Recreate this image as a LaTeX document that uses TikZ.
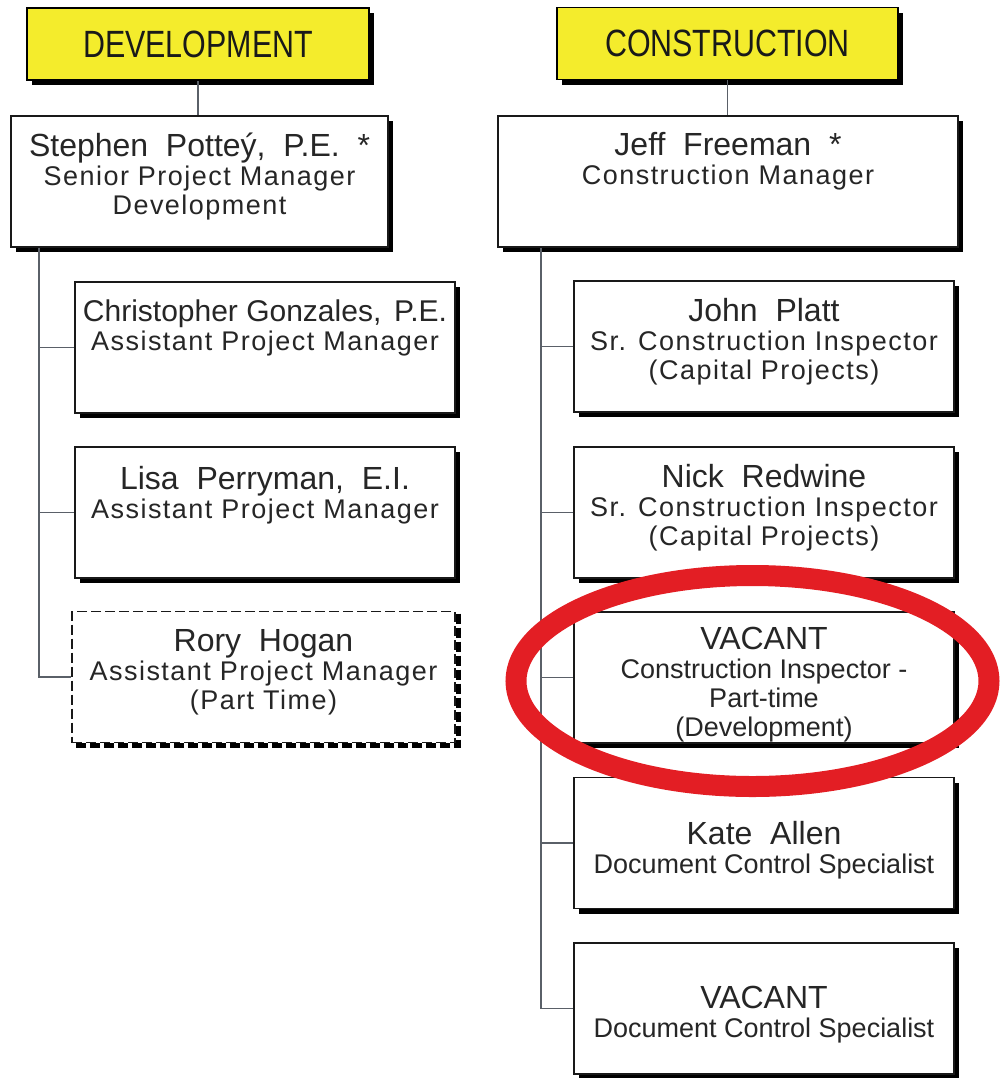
\documentclass[tikz,border=0pt]{standalone}
\usepackage{fontspec}
\setmainfont{Liberation Sans}
\newfontfamily\headfont[FakeStretch=0.8]{Liberation Sans}
\newfontfamily\widefont[LetterSpace=5.5]{Liberation Sans}
\usetikzlibrary{shadows}

\definecolor{deptyellow}{HTML}{F4EC2C}
\definecolor{ringred}{HTML}{E31E24}
\definecolor{linkgray}{HTML}{5A6068}

\newcommand{\namefont}{\normalfont\fontsize{16}{17}\selectfont}

\tikzset{
  blackshadow/.style={drop shadow={shadow xshift=2.5pt, shadow yshift=-2.5pt, fill=black, opacity=1}},
  depthead/.style={draw=black, line width=0.8pt, fill=deptyellow, blackshadow,
    minimum width=171pt, minimum height=36pt, font=\headfont\fontsize{19}{20}\selectfont, text=black!90},
  staffbox/.style={draw=black!90, line width=0.8pt, fill=white, blackshadow,
    minimum width=190pt, minimum height=65.5pt},
  vacantbox/.style={draw=black!90, line width=0.8pt, fill=white, dash pattern=on 5pt off 2pt,
    minimum width=190pt, minimum height=65.5pt},
  stafftext/.style={anchor=north, align=center, inner sep=0pt,
    font=\fontsize{13.5}{14.5}\selectfont, text=black!85},
  widetext/.style={stafftext, font=\widefont\fontsize{13.5}{14.5}\selectfont},
  link/.style={linkgray, line width=0.8pt},
}

\begin{document}
\begin{tikzpicture}[x=0.5pt, y=-0.5pt]
  \useasboundingbox (0,0) rectangle (1002,1078);

  % Development side
  \node[depthead] (dev) at (198,44) {DEVELOPMENT};
  \node[staffbox, minimum width=188.5pt] (sp) at (199.5,181.5) {};
  \node[widetext] (sp-t) at ([yshift=-8.5pt]sp.north)
    {{\namefont Stephen\ \ Potteý,\ \ P.E.\ \ *}\\Senior Project Manager\\Development};
  \node[staffbox] (cg) at (265,347.5) {};
  \node[widetext] (cg-t) at ([yshift=-9pt]cg.north)
    {{\namefont\fontsize{15}{16}\selectfont Christopher Gonzales,\hspace{0.15em} P.E.}\\Assistant Project Manager};
  \node[staffbox] (lp) at (265,512.5) {};
  \node[widetext] (lp-t) at ([yshift=-10pt]lp.north)
    {{\namefont Lisa\ \ Perryman,\ \ E.I.}\\Assistant Project Manager};
  \node[vacantbox, minimum width=191.5pt] (rh) at (263.5,677) {};
  \draw[dash pattern=on 5pt off 2pt, line width=2.5pt] ([xshift=1.2pt,yshift=-1.5pt]rh.north east)
    -- ([xshift=1.2pt,yshift=-1.2pt]rh.south east) -- ([xshift=2pt,yshift=-1.2pt]rh.south west);
  \node[widetext] (rh-t) at ([yshift=-9pt]rh.north)
    {{\namefont Rory\ \ Hogan}\\Assistant Project Manager\\(Part Time)};

  % Construction side
  \node[depthead, minimum width=170.5pt] (con) at (727.5,43.5) {CONSTRUCTION};
  \node[staffbox, minimum width=230pt] (jf) at (728,181.5) {};
  \node[widetext] (jf-t) at ([yshift=-8.5pt]jf.north)
    {{\namefont Jeff\ \ Freeman\ \ *}\\Construction Manager};
  \node[staffbox] (jp) at (764,346.5) {};
  \node[widetext] (jp-t) at ([yshift=-9pt]jp.north)
    {{\namefont John\ \ Platt}\\Sr. Construction Inspector\\(Capital Projects)};
  \node[staffbox] (nr) at (764,512.5) {};
  \node[widetext] (nr-t) at ([yshift=-9pt]nr.north)
    {{\namefont Nick\ \ Redwine}\\Sr. Construction Inspector\\(Capital Projects)};
  \node[staffbox] (vc) at (764,677.5) {};
  \node[stafftext] (vc-t) at ([yshift=-8pt]vc.north)
    {{\namefont VACANT}\\Construction Inspector -\\Part-time\\(Development)};
  \node[staffbox] (ka) at (764,843) {};
  \node[stafftext] (ka-t) at ([yshift=-22pt]ka.north)
    {{\namefont Kate\ \ Allen}\\Document Control Specialist};
  \node[staffbox] (vd) at (764,1008.5) {};
  \node[stafftext] (vd-t) at ([yshift=-22pt]vd.north)
    {{\namefont VACANT}\\Document Control Specialist};

  % Connectors
  \draw[link] (dev.south) -- (dev.south |- sp.north);
  \draw[link] (con.south) -- (con.south |- jf.north);
  \coordinate (devspine) at ([xshift=14.5pt]sp.south west);
  \coordinate (conspine) at ([xshift=22pt]jf.south west);
  \draw[link] (devspine) |- (rh.west);
  \foreach \b in {cg, lp}
    \draw[link] (devspine |- \b.west) -- (\b.west);
  \draw[link] (conspine) |- (vd.west);
  \foreach \b in {jp, nr, vc, ka}
    \draw[link] (conspine |- \b.west) -- (\b.west);

  % Highlight
  \draw[ringred, line width=10.5pt] (752.5,681) ellipse [x radius=118.25pt, y radius=52.75pt];
\end{tikzpicture}
\end{document}
